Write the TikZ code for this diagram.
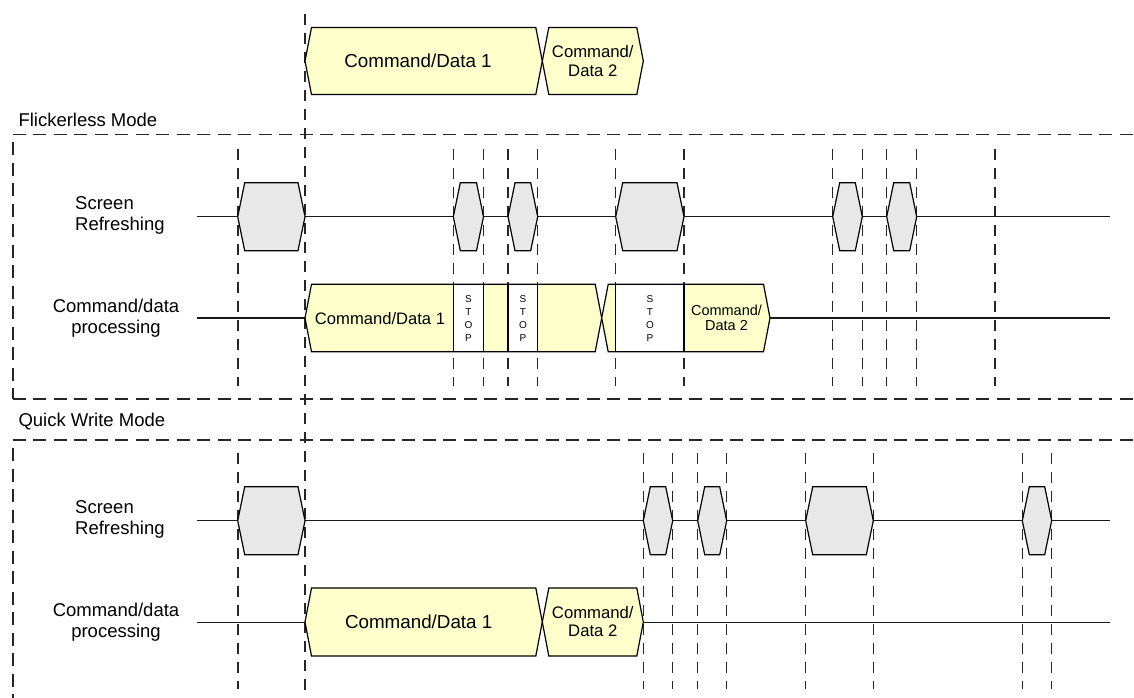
\documentclass[tikz,border=0pt]{standalone}
\usepackage{fontspec}
\setmainfont{Liberation Sans}
\definecolor{hexgray}{RGB}{232,232,232}
\definecolor{cmdyellow}{RGB}{255,255,204}
% #1 style, #2 x1, #3 x2, #4 yc, #5 half height, #6 slant
\newcommand{\hexat}[6]{%
  \path[#1] (#2,#4) -- ({#2+#6},{#4-#5}) -- ({#3-#6},{#4-#5}) -- (#3,#4)
    -- ({#3-#6},{#4+#5}) -- ({#2+#6},{#4+#5}) -- cycle;}
\begin{document}
\begin{tikzpicture}[x=1pt,y=-1pt,
  outerdash/.style={line width=1.8pt, dash pattern=on 13pt off 7.5pt, black!85},
  innerdash/.style={line width=1.2pt, dash pattern=on 11pt off 8pt, black!85},
  sig/.style={line width=1.3pt, black!90},
  grayhex/.style={fill=hexgray, draw=black, line width=1.2pt},
  yelhex/.style={fill=cmdyellow, draw=black, line width=1.2pt},
  stopbox/.style={fill=white, draw=black, line width=1.2pt},
  lbl/.style={font=\fontsize{18.5}{21}\selectfont, inner sep=0pt},
  big/.style={font=\fontsize{18.8}{21}\selectfont, inner sep=0pt, align=center},
  mid/.style={font=\fontsize{16.7}{18.5}\selectfont, inner sep=0pt, align=center},
  midb/.style={font=\fontsize{16.6}{18.5}\selectfont, inner sep=0pt, align=center},
  small/.style={font=\fontsize{14.5}{15.5}\selectfont, inner sep=0pt, align=center},
  stoptxt/.style={font=\fontsize{10}{12.8}\selectfont, inner sep=0pt, align=center}]
\useasboundingbox (0,0) rectangle (1134,698);

% long dashed marker
\draw[innerdash] (305,14) -- (305,690);

% ---------- top ----------
\hexat{yelhex}{305}{542.3}{61}{33.5}{6.5}
\hexat{yelhex}{542.3}{643.3}{61}{33.5}{6.5}
\node[big] (t1) at (418,61) {Command/Data 1};
\node[mid] (t2) at (592.8,61) {Command/\\Data 2};

% ---------- Flickerless ----------
\node[lbl, anchor=west] (fm) at (18.3,120) {Flickerless Mode};
\draw[outerdash] (12.7,134.5) -- (1134,134.5);
\draw[outerdash] (12.7,142) -- (12.7,399);
\draw[outerdash] (12.7,399) -- (1134,399);

\foreach \x in {238,453.3,483.5,508,537.7,615.7,684,832.7,862.3,886.7,916.7,995}
  \draw[innerdash] (\x,149) -- (\x,386);

\node[lbl, anchor=west, align=left] (fsl) at (75,215.5) {Screen\\Refreshing};
\node[lbl, align=center] (fcl) at (116,318) {Command/data\\processing};

\coordinate (fsA) at (197,216.7); \coordinate (fsB) at (1110,216.7);
\coordinate (fcA) at (197,318);   \coordinate (fcB) at (1110,318);
\draw[sig] (fsA) -- (fsB);
\draw[sig] (fcA) -- (fcB);

\foreach \a/\b in {237.7/305,453.3/483.5,508/537.7,615.7/684,832.7/862.3,886.7/916.7}
  {\hexat{grayhex}{\a}{\b}{216.7}{34}{7}}

\hexat{yelhex}{305}{601.7}{318}{33.75}{6.5}
\draw[stopbox] (453.3,284.25) rectangle (483.5,351.75);
\draw[stopbox] (508,284.25) rectangle (537.7,351.75);
\hexat{yelhex}{601.7}{770}{318}{33.75}{6.5}
\draw[stopbox] (615.7,284.25) rectangle (684,351.75);

\node[midb] (f1) at (380,319) {Command/Data 1};
\node[stoptxt] (st1) at (468.4,318.5) {S\\T\\O\\P};
\node[stoptxt] (st2) at (522.9,318.5) {S\\T\\O\\P};
\node[stoptxt] (st3) at (649.9,318.5) {S\\T\\O\\P};
\node[small] (f2) at (726.5,318) {Command/\\Data 2};

% ---------- Quick Write ----------
\node[lbl, anchor=west] (qm) at (18.3,421.7) {Quick Write Mode};
\draw[outerdash] (12.7,440) -- (1134,440);
\draw[outerdash] (12.7,448) -- (12.7,698);

\foreach \x in {238,643.3,672.7,697.7,726.7,805.7,873.3,1022.3,1051.7}
  \draw[innerdash] (\x,453) -- (\x,689);

\node[lbl, anchor=west, align=left] (qsl) at (75,519.5) {Screen\\Refreshing};
\node[lbl, align=center] (qcl) at (116,622) {Command/data\\processing};

\coordinate (qsA) at (197,520.7); \coordinate (qsB) at (1110,520.7);
\coordinate (qcA) at (197,622.3); \coordinate (qcB) at (1110,622.3);
\draw[sig] (qsA) -- (qsB);
\draw[sig] (qcA) -- (qcB);

\foreach \a/\b in {237.7/305,643.3/672.7,697.7/726.7,805.7/873.3,1022.3/1051.7}
  {\hexat{grayhex}{\a}{\b}{520.7}{34}{7}}

\hexat{yelhex}{305}{542.3}{622}{34}{6.5}
\hexat{yelhex}{542.3}{643.3}{622}{34}{6.5}
\node[big] (q1) at (418.7,621.7) {Command/Data 1};
\node[mid] (q2) at (592.8,621.5) {Command/\\Data 2};
\end{tikzpicture}
\end{document}
